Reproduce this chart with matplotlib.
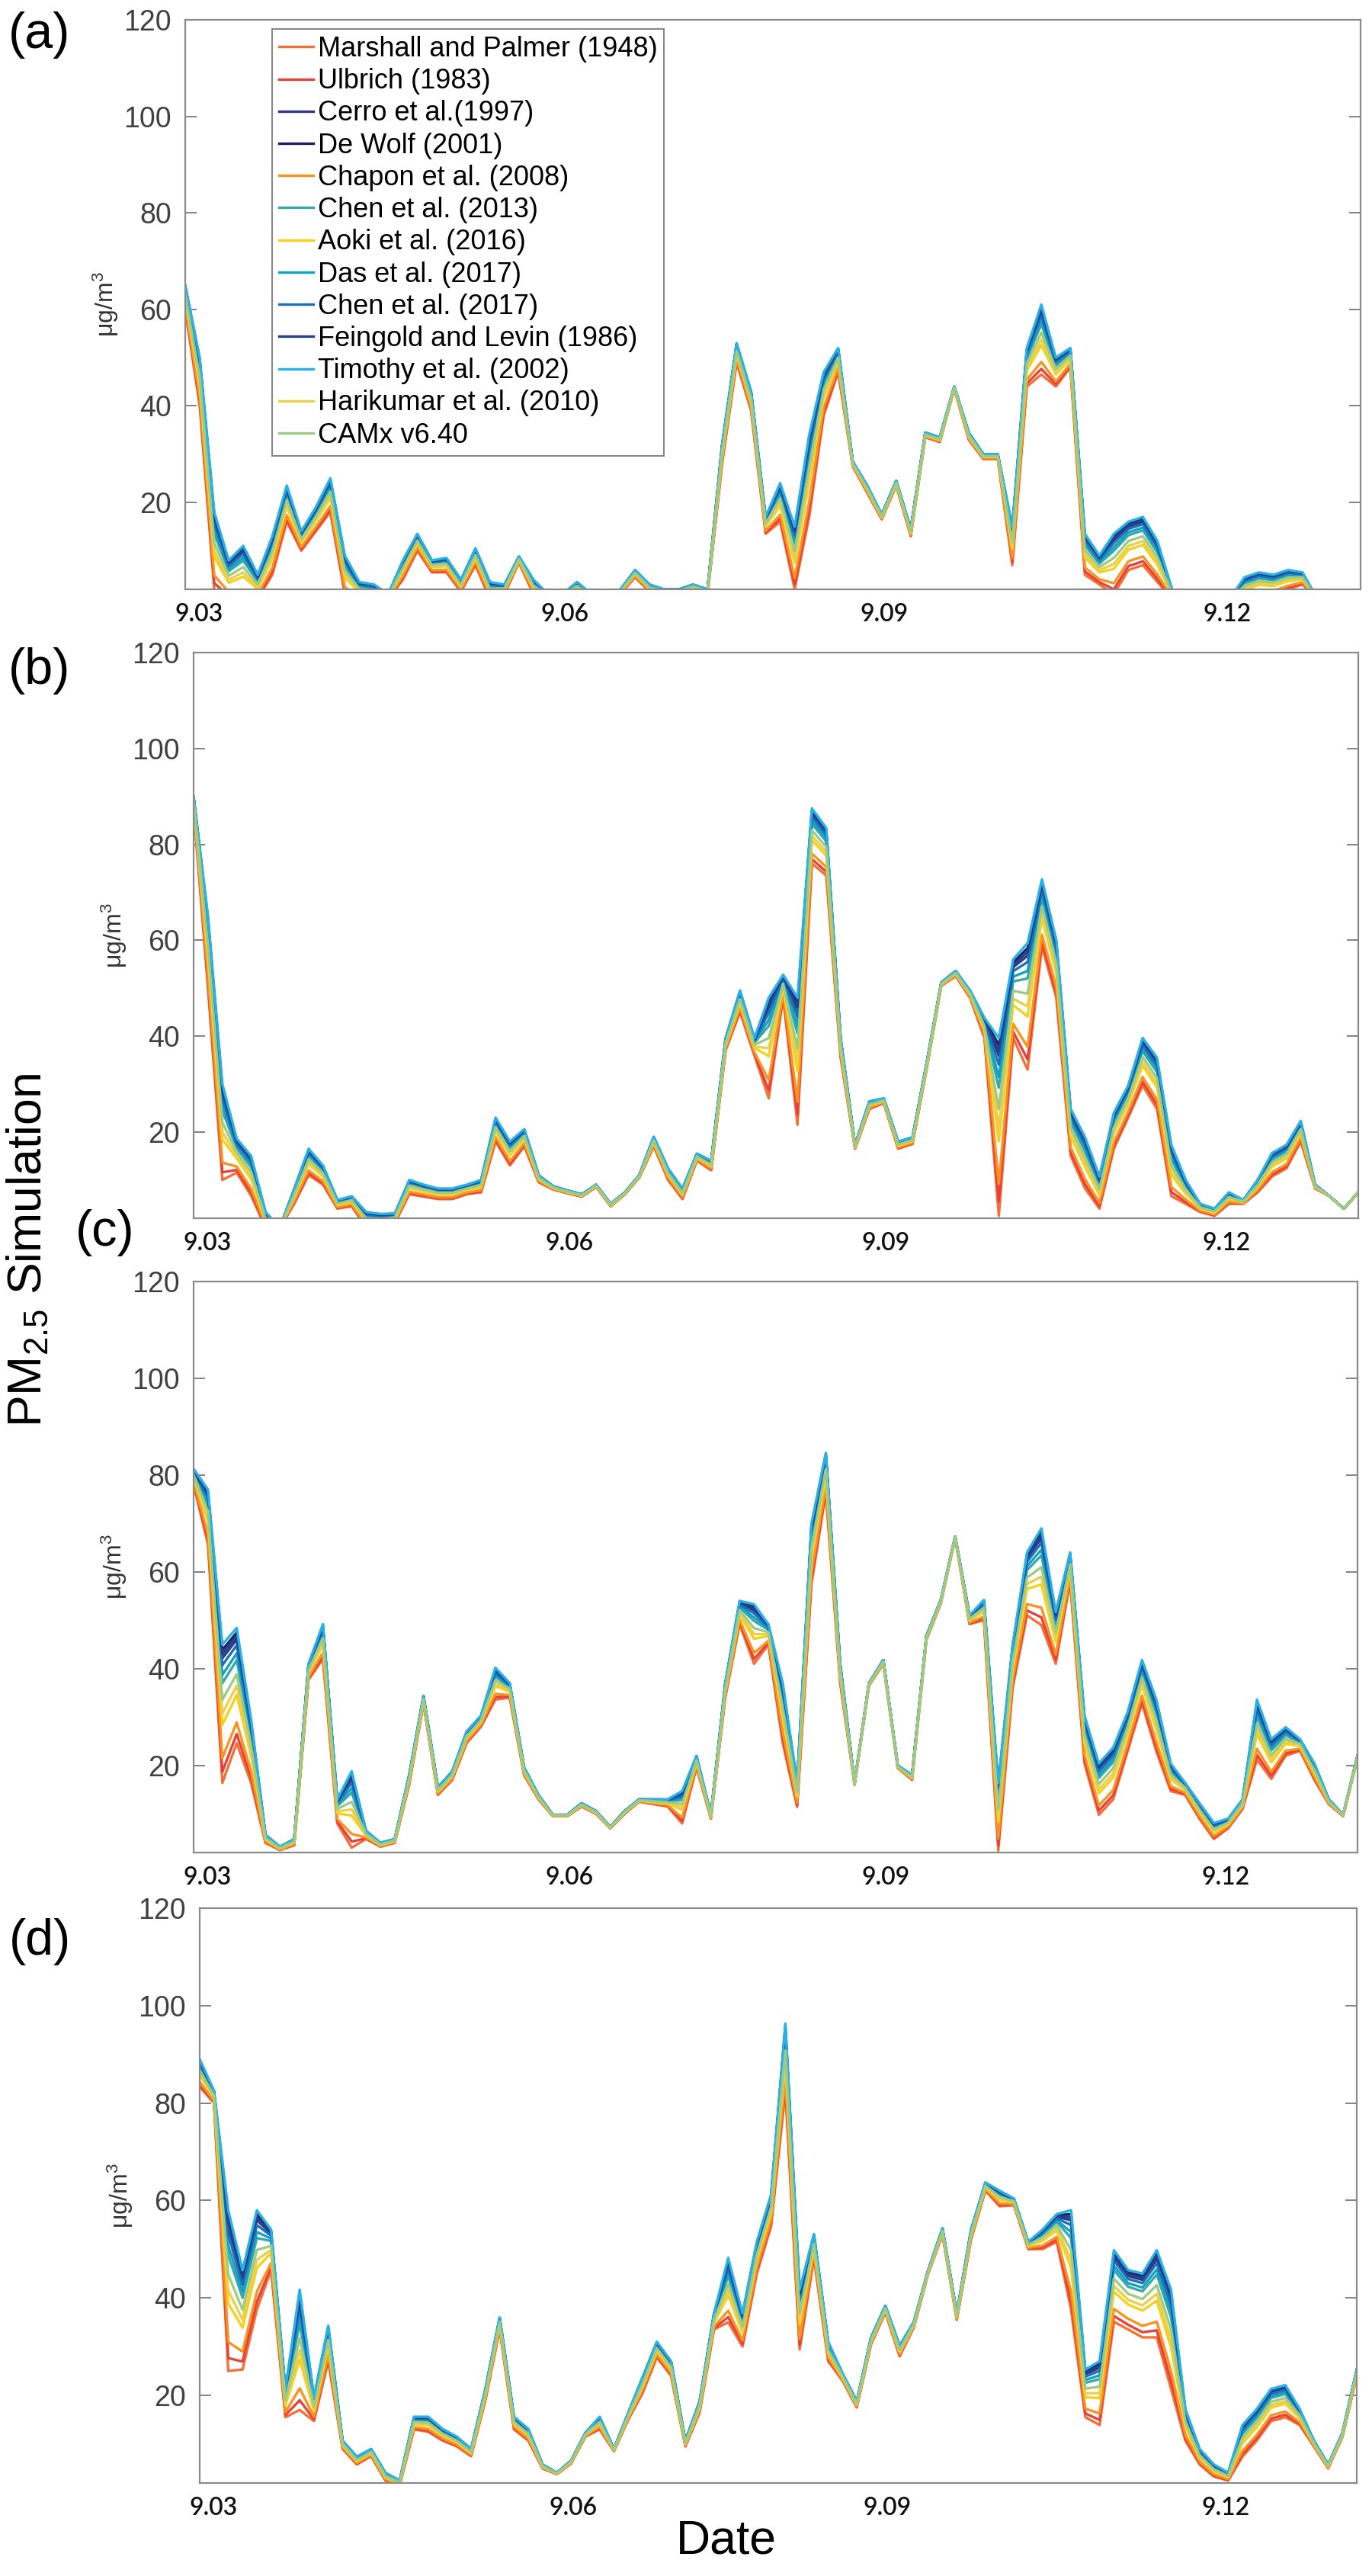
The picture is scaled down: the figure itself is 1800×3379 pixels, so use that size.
import numpy as np
import matplotlib.pyplot as plt

plt.rcParams['font.family'] = ['Liberation Sans', 'DejaVu Sans']
plt.rcParams['mathtext.fontset'] = 'custom'
plt.rcParams['mathtext.rm'] = 'Liberation Sans'
plt.rcParams['mathtext.it'] = 'Liberation Sans:italic'

# models, legend order
models = ['Marshall and Palmer (1948)', 'Ulbrich (1983)', 'Cerro et al.(1997)',
          'De Wolf (2001)', 'Chapon et al. (2008)', 'Chen et al. (2013)',
          'Aoki et al. (2016)', 'Das et al. (2017)', 'Chen et al. (2017)',
          'Feingold and Levin (1986)', 'Timothy et al. (2002)',
          'Harikumar et al. (2010)', 'CAMx v6.40']
colors = ['#f36f38', '#e8413c', '#2d3a8c', '#1a1f5e', '#f7931e', '#3aa8a8',
          '#f4d11c', '#12a3c4', '#1f6fb8', '#263f8a', '#27b1e6', '#ecd04c',
          '#9ccb86']
# where each model sits between the lowest (0) and highest (1) curve
model_pos = [0.0, 0.08, 0.9, 0.96, 0.18, 0.72, 0.42, 0.78, 0.85, 0.93, 1.0,
             0.5, 0.6]

# 3-hourly time axis, days of September
days = 3 + 0.125 * np.arange(82)

# panel (a)
hi_a = [65, 50, 18, 8, 11, 5, 13, 23.5, 14, 19,
        25, 9, 3.5, 3, 1, 8, 13.5, 8, 8.5, 4,
        10.5, 3.5, 3, 8.8, 4, 1, 1, 3.5, 1, 1,
        2, 6, 3, 2, 2, 3, 2, 32, 53, 43,
        17, 24, 15, 34, 47, 52, 28.5, 23.5, 17.5, 24.5,
        14.5, 34.5, 33.5, 44, 34.5, 30, 30, 15, 52, 61,
        50, 52, 13.5, 9, 13.5, 16, 17, 12, 2, 0,
        0, 0, 0, 4.5, 5.5, 5, 6, 5.5, 0, 0,
        0, 0]
lo_a = [60, 40, 2, 0, 0, 0, 5, 16, 10, 14,
        18, 1, 0, 0, 0, 4, 10, 5.5, 5.5, 1.5,
        7, 0, 1, 7.5, 1, 0, 0, 1.5, 0, 0,
        1, 4.5, 1.5, 1, 1, 2, 1, 28, 49, 39,
        13.5, 16, 2, 17, 38, 47, 27.5, 22, 16.5, 23.5,
        13, 33.5, 32.5, 43.5, 33, 29, 29, 7, 44, 46.5,
        44, 48, 5, 3, 1, 6, 7, 3.5, 0, 0,
        0, 0, 0, 0, 1, 1, 2, 3, 0, 0,
        0, 0]

# panel (b)
hi_b = [90, 65, 30, 18.6, 15, 3.3, 0, 8.2, 16.5, 13,
        5.8, 6.6, 3.3, 2.9, 3, 10, 9, 8.2, 8.2, 9,
        10, 23, 18, 20.6, 11, 8.7, 7.8, 7, 9, 5,
        7.4, 11, 19, 12.4, 8.2, 15.5, 14, 39.6, 49.5, 39.6,
        48, 52.8, 48, 87.5, 83.4, 39.6, 17.3, 26.4, 27, 18,
        18.9, 34.7, 51.2, 53.6, 49.5, 43.8, 39.6, 56, 59.4, 72.7,
        60, 24.8, 18.9, 10.7, 24, 29.7, 39.6, 35.5, 17.3, 10,
        5, 4, 7.4, 5.8, 10, 15.6, 17.3, 22.3, 9, 6.6,
        4, 7.4]
lo_b = [87.5, 50, 10, 11.5, 6.7, 0, 0, 5, 11, 9,
        4, 4.5, 0, 0, 1, 7, 6.5, 6, 6, 7,
        7.4, 18, 13, 17, 9.5, 8, 7.2, 6.5, 8.5, 4.5,
        7, 10.5, 17, 10, 6, 14, 12, 37, 45, 36,
        27, 48, 21.5, 76, 73.5, 35.5, 16.5, 24.8, 26, 16.5,
        17.5, 33.5, 50.5, 52.5, 48, 39.6, 2.5, 39.6, 33, 58.6,
        48, 15, 8.2, 4, 16.5, 23, 29.7, 24.8, 6.6, 5,
        3.3, 2.5, 5, 5, 7.4, 10.7, 12.4, 18, 8.2, 6.6,
        4, 7.4]

# panel (c)
hi_c = [81.3, 77, 45, 48.4, 29.5, 5.7, 3.2, 4.8, 41, 49.2,
        13, 18.8, 6.5, 4, 4.8, 18, 34.4, 15.5, 18.8, 27,
        30.3, 40.2, 37, 19.6, 13.9, 9.8, 9.8, 12.2, 10.6, 7.3,
        10.6, 13, 13, 13, 14.7, 22, 9.8, 37, 54, 53.3,
        49.2, 37, 16.4, 70, 84.6, 41, 16.4, 37, 41.8, 20,
        18, 46.8, 54.2, 67.3, 51, 54.2, 16.4, 45, 64, 69,
        51.7, 64, 30.3, 20.4, 23.7, 31, 41.8, 33.6, 20.4, 16.4,
        12.2, 8.1, 9, 13, 33.6, 25.4, 27.9, 25.4, 20.4, 13,
        9.8, 22]
lo_c = [78, 65.7, 16.4, 24.6, 16.4, 4, 2.5, 3.5, 37.7, 42,
        8, 3, 4.8, 3.2, 4, 16, 32.8, 13.9, 17, 24.6,
        28, 33.6, 34, 18, 13, 9.5, 9.5, 11.5, 10, 7,
        10, 12.5, 12, 11.5, 8, 19.6, 9, 34, 49.2, 41,
        45, 24.6, 11.4, 57.5, 76.3, 37, 16, 36.5, 41, 19.5,
        17, 46, 53.5, 67, 49.2, 50, 2.4, 36, 51, 49,
        41, 58, 20.4, 9.8, 13, 22.9, 32.8, 22.9, 14.7, 13.9,
        9, 4.8, 7, 11, 21.2, 17.2, 22, 23, 17, 12,
        9.5, 21.5]

# panel (d)
hi_d = [89, 82.5, 58, 45.7, 58, 54, 21.3, 41.7, 19.6, 34.3,
        10.7, 7.4, 9, 4.1, 2.5, 15.6, 15.6, 13.1, 11.5, 9,
        21.3, 36, 15.6, 13.1, 5.8, 4.1, 6.6, 12.3, 15.6, 9,
        16.4, 23.7, 31, 27, 10.7, 18.8, 36.8, 48.2, 36.8, 51.5,
        61.2, 96.3, 41.7, 53.1, 31, 24.5, 18.8, 31.9, 38.4, 30.2,
        35.1, 45.7, 54.3, 36.8, 54, 63.7, 62, 60.4, 51.5, 54,
        57.2, 58, 25.3, 27, 49.8, 45.7, 45, 49.8, 41.7, 17.2,
        9, 5.8, 4.1, 13.9, 17.2, 21.3, 22.1, 17.2, 10.7, 5.8,
        12.3, 25.3]
lo_d = [83.3, 80, 25, 25.3, 37.6, 45.7, 15.5, 17, 14.7, 27,
        9, 5.8, 7.5, 2.5, 1.5, 13, 12.5, 10.7, 9.5, 7.5,
        19, 33.5, 13, 10.7, 5, 3.8, 6, 11.5, 13, 8.5,
        15, 20.4, 27.8, 24, 9.5, 16.5, 33.5, 35, 30, 45,
        54.7, 82.5, 29.4, 48.2, 27, 23, 17.5, 30.5, 37, 28,
        34, 45, 53, 35.5, 52, 62, 58.8, 59, 50, 50,
        51.5, 37.6, 15.5, 13.9, 35.1, 33.5, 31.9, 31.9, 21.3, 10.7,
        5.8, 3.3, 2.5, 7.4, 10.7, 14.7, 15.5, 13.9, 9.5, 5,
        11.5, 24]

panel_tags = ['(a)', '(b)', '(c)', '(d)']
panel_hi = [hi_a, hi_b, hi_c, hi_d]
panel_lo = [lo_a, lo_b, lo_c, lo_d]
xtick_pos = [3.12, 6.27, 9.02, 11.98]
xtick_lab = ['9.03', '9.06', '9.09', '9.12']

W, H = 1800, 3379
# axes boxes in pixels: left, right, top, bottom
boxes = [(243, 1785, 26, 773), (254, 1782, 856, 1598),
         (254, 1781, 1681, 2430), (262, 1780, 2503, 3257)]
tag_xy = [(52, 46), (52, 880), (138, 1617), (52, 2547)]

fig = plt.figure(figsize=(18, 33.79), dpi=100)

for k in range(4):
    l, r, t, b = boxes[k]
    ax = fig.add_axes([l / W, 1 - b / H, (r - l) / W, (b - t) / H])
    hi = np.array(panel_hi[k])
    lo = np.array(panel_lo[k])
    for name, c, w in zip(models, colors, model_pos):
        ax.plot(days, lo + w * (hi - lo), color=c, lw=2.4, label=name,
                solid_joinstyle='round')

    ax.set_xlim(3, 13.125)
    ax.set_ylim(2, 120)
    ax.set_yticks([20, 40, 60, 80, 100, 120])
    ax.tick_params(axis='y', direction='in', length=11, width=1.3,
                   color='#777777', labelsize=27, labelcolor='#404040',
                   pad=13, right=True)
    ax.set_xticks(xtick_pos)
    ax.set_xticklabels(xtick_lab, fontfamily='Lato', fontsize=23,
                       fontweight='semibold')
    ax.tick_params(axis='x', length=0, pad=13, labelcolor='#111111')
    for s in ax.spines.values():
        s.set_color('#8a8a8a')
        s.set_linewidth(1.6)

    ax.set_ylabel('μg/m$^3$', fontsize=23, color='#333333')
    ax.yaxis.set_label_coords(-85 / (r - l), 0.5)

    fig.text(tag_xy[k][0] / W, 1 - tag_xy[k][1] / H, panel_tags[k],
             fontsize=48, ha='center', va='center')

    if k == 0:
        leg = ax.legend(loc='upper left', bbox_to_anchor=(0.074, 0.984),
                        fontsize=26, fancybox=False, edgecolor='#888888',
                        framealpha=1, handlelength=1.25, handletextpad=0.15,
                        borderpad=0.25, labelspacing=0.2, borderaxespad=0)
        leg.get_frame().set_linewidth(1.5)

fig.text(38 / W, 1 - 1640 / H, 'PM$_{2.5}$ Simulation', rotation=90,
         fontsize=45, ha='center', va='center')
fig.text(953 / W, 1 - 3333 / H, 'Date', fontsize=45, ha='center',
         va='center')

fig.savefig('out.png', dpi=100)
